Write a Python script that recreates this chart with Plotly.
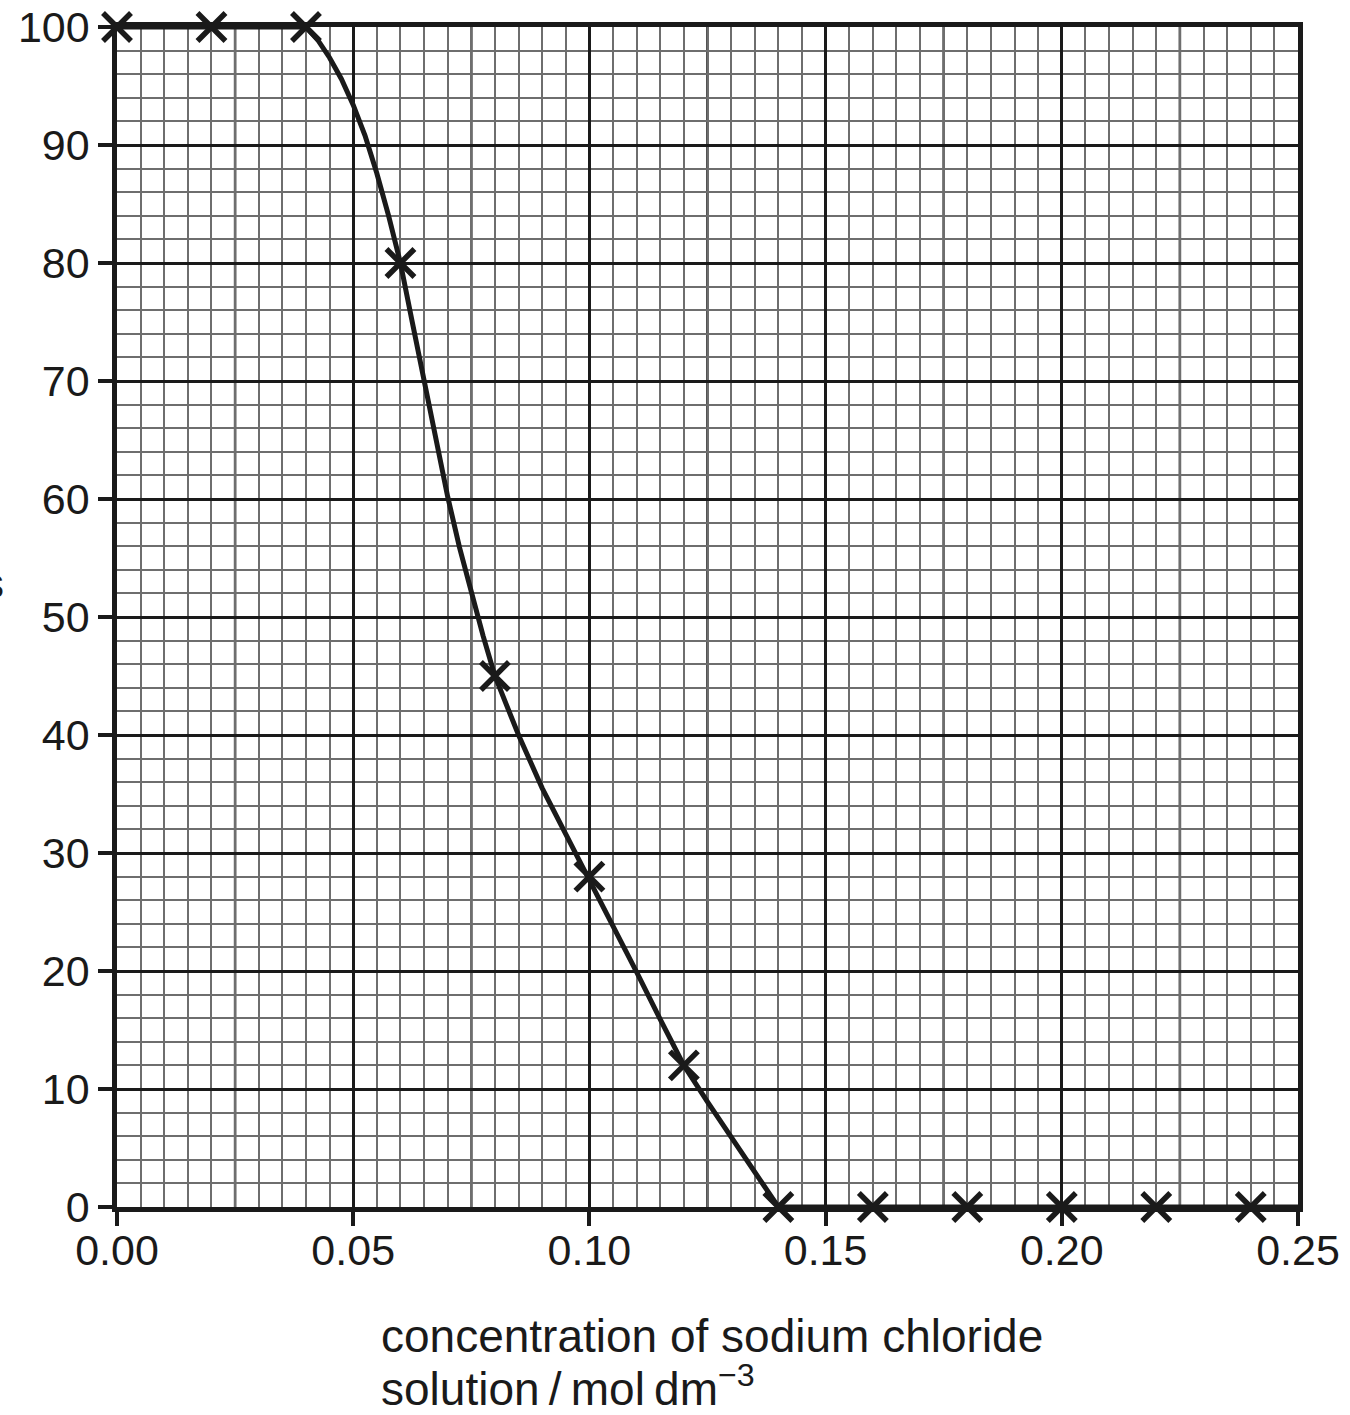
import plotly.graph_objects as go

# measured points (crosses)
conc = [0.00, 0.02, 0.04, 0.06, 0.08, 0.10, 0.12, 0.14, 0.16, 0.18, 0.20, 0.22, 0.24]
percent = [100, 100, 100, 80, 45, 28, 12, 0, 0, 0, 0, 0, 0]

# hand-drawn curve of best fit
curve_x = [0.00, 0.04, 0.0425, 0.045, 0.0475, 0.05, 0.0525, 0.055, 0.0575, 0.06,
           0.0625, 0.065, 0.0675, 0.07, 0.0725, 0.075, 0.0775, 0.08, 0.0825, 0.085,
           0.09, 0.095, 0.10, 0.105, 0.11, 0.115, 0.12, 0.125, 0.13, 0.135, 0.14, 0.25]
curve_y = [100, 100, 98.9, 97.4, 95.6, 93.4, 90.8, 87.6, 84.0, 80.0,
           75.0, 70.1, 65.1, 60.2, 55.9, 52.0, 48.4, 45.0, 42.4, 40.0,
           35.5, 31.6, 27.9, 23.8, 19.9, 15.9, 12.0, 8.9, 5.9, 2.9, 0, 0]

x_ticks = [0.00, 0.05, 0.10, 0.15, 0.20, 0.25]
x_tick_text = ["0.00", "0.05", "0.10", "0.15", "0.20", "0.25"]
y_ticks = [0, 10, 20, 30, 40, 50, 60, 70, 80, 90, 100]
medium_x_lines = [0.025, 0.075, 0.125, 0.175, 0.225]

x_title_line1 = "concentration of sodium chloride"
x_title_line2 = "solution\u2009/\u2009mol\u2009dm<sup>\u22123</sup>"
y_title = "percentage of plasmolysed cells"

INK = "#1a1a1a"
MINOR = "#6e6e6e"
FONT = "Liberation Sans, Arial, Helvetica, sans-serif"

fig = go.Figure()
fig.add_trace(go.Scatter(
    x=curve_x, y=curve_y, mode="lines",
    line=dict(color=INK, width=5, shape="linear"),
    hoverinfo="skip", showlegend=False,
))
fig.add_trace(go.Scatter(
    x=conc, y=percent, mode="markers",
    marker=dict(symbol="x-thin", size=28, color=INK, line=dict(color=INK, width=5.5)),
    cliponaxis=False, showlegend=False,
))

shapes = []
for v in medium_x_lines:
    shapes.append(dict(type="line", xref="x", yref="paper", x0=v, x1=v, y0=0, y1=1,
                       line=dict(color=INK, width=2.5), layer="between"))

fig.update_layout(
    width=1350, height=1415,
    margin=dict(l=117, r=52, t=27, b=208, autoexpand=False),
    paper_bgcolor="white", plot_bgcolor="white",
    font=dict(family=FONT, size=43, color=INK),
    shapes=shapes,
    xaxis=dict(
        range=[0, 0.25], tickvals=x_ticks, ticktext=x_tick_text,
        showgrid=True, gridcolor=INK, gridwidth=3,
        minor=dict(dtick=0.005, tick0=0, showgrid=True, gridcolor=MINOR, gridwidth=1.5),
        showline=True, linecolor=INK, linewidth=4.5, mirror=True,
        ticks="outside", ticklen=14, tickwidth=4, tickcolor=INK,
        ticklabelstandoff=-12, ticklabeloverflow="allow",
        zeroline=False, tickfont=dict(size=43, color=INK),
    ),
    yaxis=dict(
        range=[0, 100], tickvals=y_ticks,
        showgrid=True, gridcolor=INK, gridwidth=3,
        minor=dict(dtick=2, tick0=0, showgrid=True, gridcolor=MINOR, gridwidth=1.5),
        showline=True, linecolor=INK, linewidth=4.5, mirror=True,
        ticks="outside", ticklen=14, tickwidth=4, tickcolor=INK,
        ticklabelstandoff=0, ticklabeloverflow="allow",
        zeroline=False, tickfont=dict(size=43, color=INK),
    ),
    annotations=[
        dict(text=x_title_line1, xref="paper", yref="paper", x=0.222, y=-0.1093,
             xanchor="left", yanchor="middle", showarrow=False, align="left",
             font=dict(size=46, color=INK)),
        dict(text=x_title_line2, xref="paper", yref="paper", x=0.222, y=-0.1517,
             xanchor="left", yanchor="middle", showarrow=False, align="left",
             font=dict(size=46, color=INK)),
        dict(text=y_title, xref="paper", yref="paper", x=-0.094, y=0.5288,
             xanchor="right", yanchor="middle", showarrow=False,
             font=dict(size=43, color=INK)),
    ],
)

fig.write_html("out.html")
